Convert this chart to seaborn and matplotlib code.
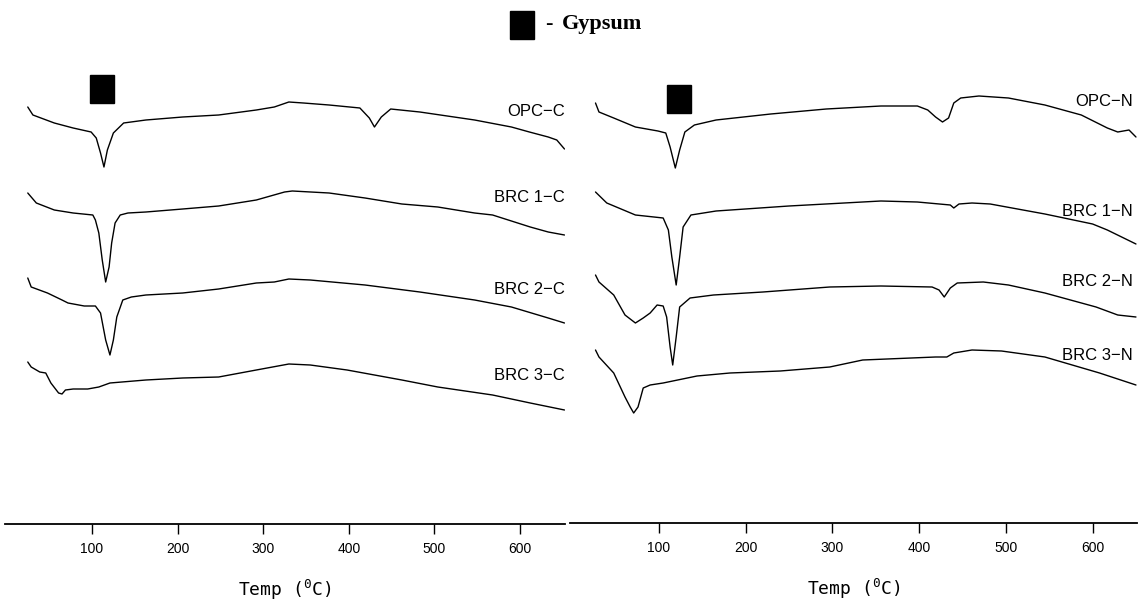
import matplotlib
matplotlib.use("Agg")
import matplotlib.pyplot as plt
import seaborn as sns
import pandas as pd
from matplotlib.patches import Rectangle

# DTA curves: temperature (C) and signal relative to curve start (a.u.)
labels_c = ["OPC−C", "BRC 1−C", "BRC 2−C", "BRC 3−C"]
labels_n = ["OPC−N", "BRC 1−N", "BRC 2−N", "BRC 3−N"]

opc_c_t = [25, 31, 56, 78, 99, 105, 110, 114, 118, 125, 137, 163, 206, 248, 292, 313, 330, 347, 377, 413, 424, 430, 438, 449, 483, 547, 590, 611, 633, 643, 652]
opc_c_v = [0, -8, -16, -21, -25, -31, -46, -60, -43, -26, -16, -13, -10, -8, -3, 0, 5, 4, 2, -1, -11, -20, -10, -2, -5, -13, -20, -25, -30, -33, -42]

brc1_c_t = [25, 35, 56, 78, 101, 104, 108, 112, 116, 120, 123, 127, 133, 142, 163, 206, 248, 292, 325, 334, 377, 419, 462, 504, 547, 568, 612, 633, 652]
brc1_c_v = [0, -10, -17, -20, -22, -27, -40, -67, -89, -74, -50, -30, -22, -20, -19, -16, -13, -7, 1, 2, 0, -5, -11, -14, -20, -22, -34, -39, -42]

brc2_c_t = [25, 29, 48, 65, 72, 91, 104, 110, 116, 121, 125, 129, 136, 146, 163, 206, 248, 292, 313, 330, 355, 419, 483, 547, 590, 633, 652]
brc2_c_v = [0, -9, -15, -22, -25, -28, -28, -35, -62, -77, -62, -39, -22, -19, -17, -15, -11, -5, -4, -1, -2, -7, -14, -22, -29, -40, -45]

brc3_c_t = [25, 29, 39, 46, 52, 61, 65, 69, 78, 95, 108, 121, 163, 206, 248, 292, 330, 355, 398, 462, 504, 568, 612, 652]
brc3_c_v = [0, -5, -10, -11, -21, -31, -32, -28, -27, -27, -25, -21, -18, -16, -15, -8, -2, -3, -8, -18, -25, -33, -41, -48]

opc_n_t = [27, 31, 48, 73, 99, 108, 113, 119, 124, 130, 141, 166, 229, 293, 356, 398, 410, 419, 427, 434, 440, 448, 469, 503, 545, 587, 617, 629, 642, 650]
opc_n_v = [0, -9, -15, -24, -28, -30, -44, -65, -47, -29, -22, -17, -11, -6, -3, -3, -7, -14, -19, -15, 0, 5, 7, 5, -2, -12, -25, -29, -27, -34]

brc1_n_t = [27, 40, 73, 105, 111, 115, 120, 124, 128, 137, 166, 250, 356, 398, 436, 440, 446, 461, 482, 545, 600, 617, 650]
brc1_n_v = [0, -11, -23, -26, -38, -65, -93, -65, -35, -23, -19, -14, -9, -10, -13, -16, -12, -11, -12, -22, -32, -38, -52]

brc2_n_t = [27, 31, 48, 61, 73, 82, 90, 98, 105, 109, 113, 116, 120, 124, 136, 163, 220, 297, 356, 415, 423, 429, 436, 444, 474, 503, 545, 604, 629, 650]
brc2_n_v = [0, -7, -20, -40, -48, -43, -38, -30, -31, -42, -72, -90, -62, -32, -23, -20, -17, -12, -11, -12, -15, -22, -13, -8, -7, -10, -18, -32, -40, -42]

brc3_n_t = [27, 31, 48, 61, 67, 71, 76, 82, 90, 105, 144, 182, 240, 297, 335, 419, 432, 440, 461, 495, 545, 608, 650]
brc3_n_v = [0, -7, -23, -47, -57, -63, -57, -38, -35, -33, -26, -23, -21, -17, -10, -7, -7, -3, 0, -1, -7, -23, -35]

# vertical stacking of the curves and their labels
offsets_c = [497, 411, 326, 242]
offsets_n = [501, 412, 329, 254]
label_y_c = [492, 406, 314, 229]
label_y_n = [502, 392, 322, 249]

xticks = [100, 200, 300, 400, 500, 600]

sns.set_style("white")
plt.rcParams["font.family"] = ["Liberation Sans", "DejaVu Sans"]
plt.rcParams["text.color"] = "black"
plt.rcParams["axes.labelcolor"] = "black"
plt.rcParams["xtick.color"] = "black"


def make_df(ts, vs, names, offsets):
    rows = []
    for t, v, name, off in zip(ts, vs, names, offsets):
        for ti, vi in zip(t, v):
            rows.append({"temp": ti, "signal": vi + off, "sample": name})
    return pd.DataFrame(rows)


df_c = make_df([opc_c_t, brc1_c_t, brc2_c_t, brc3_c_t],
               [opc_c_v, brc1_c_v, brc2_c_v, brc3_c_v], labels_c, offsets_c)
df_n = make_df([opc_n_t, brc1_n_t, brc2_n_t, brc3_n_t],
               [opc_n_v, brc1_n_v, brc2_n_v, brc3_n_v], labels_n, offsets_n)

fig = plt.figure(figsize=(11.41, 6.04), dpi=100)
ax1 = fig.add_axes([5 / 1141, 80 / 604, 560 / 1141, 464 / 604])
ax2 = fig.add_axes([570 / 1141, 81 / 604, 567 / 1141, 464 / 604])

panels = [
    (ax1, df_c, labels_c, label_y_c, (-1.6, 652.6), (80, 544), 1.0, (97.7, 501)),
    (ax2, df_n, labels_n, label_y_n, (-2.4, 651.2), (81, 545), 0.993, (109, 491)),
]

for ax, df, names, ly, xlim, ylim, lx, gyp in panels:
    for name in names:
        sns.lineplot(data=df[df["sample"] == name], x="temp", y="signal",
                     color="black", linewidth=1.0, estimator=None, sort=False, ax=ax)
    for name, y in zip(names, ly):
        ax.annotate(name, xy=(lx, y), xycoords=("axes fraction", "data"),
                    ha="right", va="center", fontsize=12, color="black")
    # gypsum marker
    ax.add_patch(Rectangle(gyp, 28, 28, color="black"))
    ax.set_xlim(*xlim)
    ax.set_ylim(*ylim)
    ax.set_xticks(xticks)
    ax.set_xticklabels([str(t) for t in xticks], fontsize=10, color="black")
    ax.set_yticks([])
    ax.set_ylabel("")
    ax.set_xlabel("Temp ($\\mathregular{^0}$C)", fontsize=13, color="black",
                  family="DejaVu Sans Mono", labelpad=16)
    for side in ["left", "right", "top"]:
        ax.spines[side].set_visible(False)
    ax.spines["bottom"].set_color("black")
    ax.spines["bottom"].set_linewidth(1.3)
    ax.tick_params(axis="x", direction="out", length=7, width=1,
                   colors="black", pad=6, bottom=True)

# legend-like header
fig.patches.append(Rectangle((510 / 1141, (604 - 39) / 604), 24 / 1141, 28 / 604,
                             transform=fig.transFigure, color="black"))
fig.text(545 / 1141, (604 - 24) / 604, "-", fontsize=16, fontweight="bold",
         family="Liberation Serif", va="center", ha="left", color="black")
fig.text(562 / 1141, (604 - 24) / 604, "Gypsum", fontsize=16, fontweight="bold",
         family="Liberation Serif", va="center", ha="left", color="black")

fig.savefig("out.png", dpi=100, facecolor="white")
